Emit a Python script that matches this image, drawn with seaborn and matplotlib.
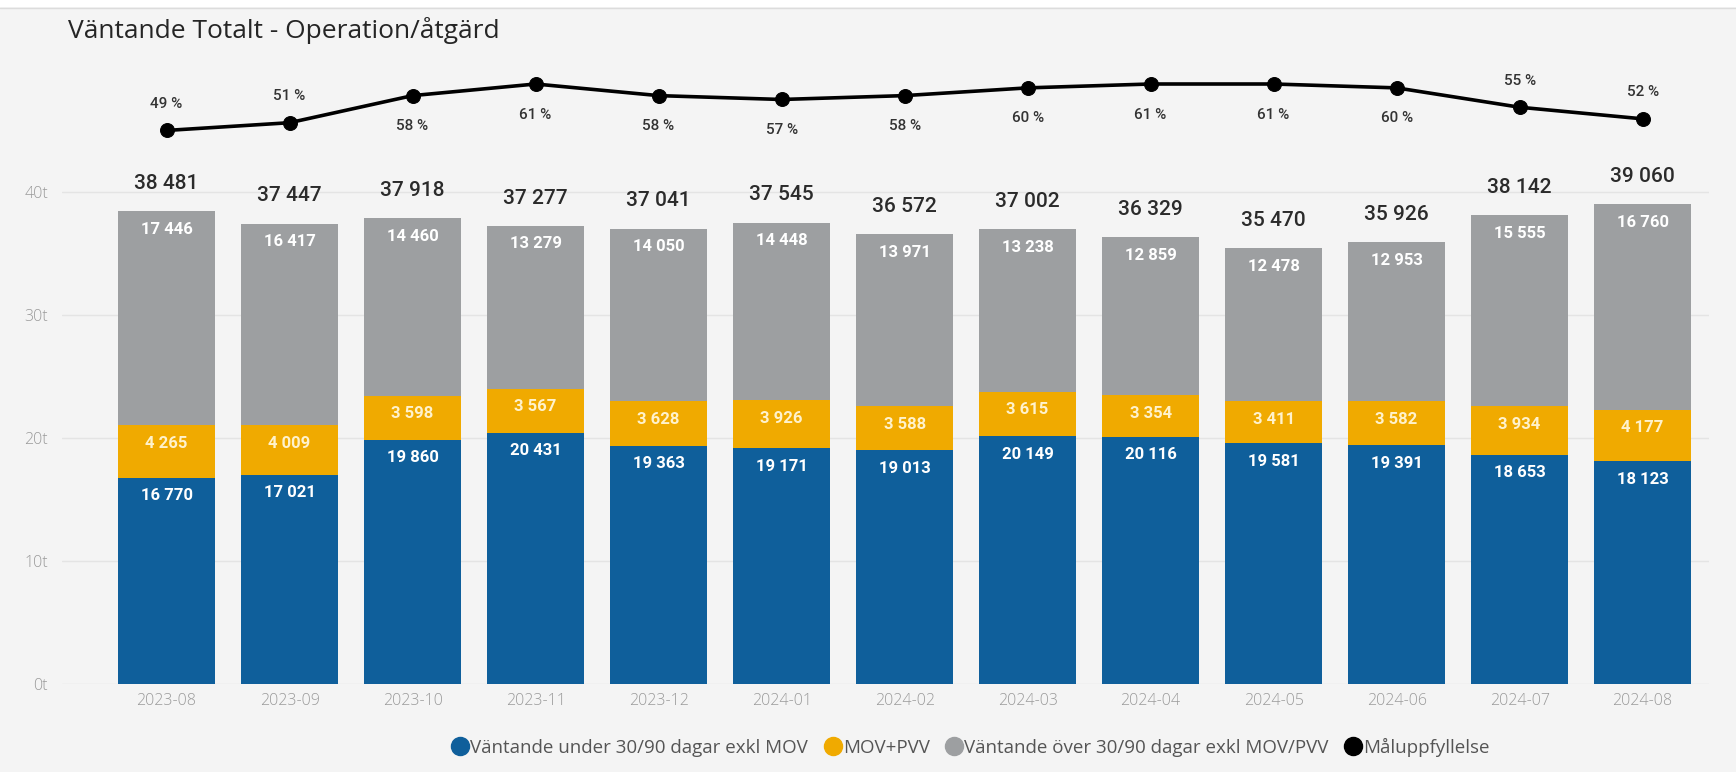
import matplotlib
matplotlib.use('Agg')
import matplotlib.pyplot as plt
from matplotlib.lines import Line2D
from matplotlib.patches import Rectangle
import seaborn as sns
import numpy as np
import pandas as pd

# data
months = ['2023-08', '2023-09', '2023-10', '2023-11', '2023-12', '2024-01', '2024-02',
          '2024-03', '2024-04', '2024-05', '2024-06', '2024-07', '2024-08']
under = [16770, 17021, 19860, 20431, 19363, 19171, 19013, 20149, 20116, 19581, 19391, 18653, 18123]
mov_pvv = [4265, 4009, 3598, 3567, 3628, 3926, 3588, 3615, 3354, 3411, 3582, 3934, 4177]
over = [17446, 16417, 14460, 13279, 14050, 14448, 13971, 13238, 12859, 12478, 12953, 15555, 16760]
maluppf = [49, 51, 58, 61, 58, 57, 58, 60, 61, 61, 60, 55, 52]

series_names = ['Väntande under 30/90 dagar exkl MOV', 'MOV+PVV',
                'Väntande över 30/90 dagar exkl MOV/PVV', 'Måluppfyllelse']

c_blue = '#0f5f9b'
c_yellow = '#f0aa00'
c_gray = '#9d9fa1'
bg = '#f4f4f4'

sns.set_style('white')
plt.rcParams['font.family'] = ['Open Sans', 'DejaVu Sans']

df = pd.DataFrame({'month': months, 'under': under, 'mov': mov_pvv, 'over': over, 'pct': maluppf})
df['lvl1'] = df['under']
df['lvl2'] = df['under'] + df['mov']
df['total'] = df['lvl2'] + df['over']

fig = plt.figure(figsize=(17.36, 7.72), dpi=100)
fig.patch.set_facecolor(bg)
fig.patches.append(Rectangle((0, 1 - 7 / 772), 1, 7 / 772, transform=fig.transFigure,
                             facecolor='white', edgecolor='none'))
fig.lines.append(Line2D([0, 1], [1 - 8 / 772, 1 - 8 / 772], transform=fig.transFigure,
                        color='#dcdcdc', lw=1))

ax = fig.add_axes([62 / 1736, 88.4 / 772, (1709 - 62) / 1736, 623.6 / 772])
ax.set_facecolor(bg)

bw = 0.79
# stacked bars: draw cumulative heights, tallest first
sns.barplot(data=df, x='month', y='total', color=c_gray, saturation=1, width=bw, errorbar=None,
            linewidth=0, edgecolor='none', ax=ax, zorder=2)
sns.barplot(data=df, x='month', y='lvl2', color=c_yellow, saturation=1, width=bw, errorbar=None,
            linewidth=0, edgecolor='none', ax=ax, zorder=3)
sns.barplot(data=df, x='month', y='lvl1', color=c_blue, saturation=1, width=bw, errorbar=None,
            linewidth=0, edgecolor='none', ax=ax, zorder=4)

ax.set_ylim(0, 50782)
ax.set_xlim(-0.85, 12.54)
ax.set_yticks([0, 10000, 20000, 30000, 40000])
ax.set_yticklabels(['0t', '10t', '20t', '30t', '40t'])
ax.grid(axis='y', color='#e4e4e4', lw=1, zorder=0)
ax.set_axisbelow(True)
for s in ax.spines.values():
    s.set_visible(False)
ax.tick_params(axis='both', length=0, labelsize=11.5, labelcolor='#9a9a9a')
ax.tick_params(axis='y', pad=10)
ax.tick_params(axis='x', pad=7)
for lab in ax.get_xticklabels() + ax.get_yticklabels():
    lab.set_fontweight('light')
ax.set_xlabel('')
ax.set_ylabel('')

fmt = lambda v: f'{v:,}'.replace(',', ' ')
lab_font = ['Roboto', 'DejaVu Sans']
for i, row in df.iterrows():
    ax.annotate(fmt(row['total']), (i, row['total']), xytext=(0, 20), textcoords='offset points',
                ha='center', va='center', fontsize=15, color='#2b2b2b', family=lab_font, fontweight='medium', zorder=6)
    ax.annotate(fmt(row['over']), (i, row['total']), xytext=(0, -13), textcoords='offset points',
                ha='center', va='center', fontsize=12, color='white', family=lab_font, fontweight='bold', zorder=6)
    ax.annotate(fmt(row['mov']), (i, row['lvl2']), xytext=(0, -13), textcoords='offset points',
                ha='center', va='center', fontsize=12, color='#fff2cc', family=lab_font, fontweight='bold', zorder=6)
    ax.annotate(fmt(row['under']), (i, row['lvl1']), xytext=(0, -13), textcoords='offset points',
                ha='center', va='center', fontsize=12, color='white', family=lab_font, fontweight='bold', zorder=6)

# line on secondary scale
ax2 = ax.twinx()
ax2.set_ylim(-93.9, 67.2)
ax2.axis('off')
xpos = np.arange(len(months))
sns.lineplot(x=xpos, y=df['pct'], color='black', lw=2.6, marker='o', markersize=10,
             markeredgecolor='black', ax=ax2, zorder=7)
ax2.set_xlim(ax.get_xlim())
for i, v in enumerate(maluppf):
    dy = 19 if v < 56 else -22
    ax2.annotate(f'{v} %', (i, v), xytext=(0, dy), textcoords='offset points', ha='center', va='center',
                 fontsize=11, color='#333333', family=lab_font, fontweight='medium')

fig.text(68 / 1736, 1 - 30 / 772, 'Väntande Totalt - Operation/åtgärd', fontsize=19,
         color='#252525', va='center', ha='left')

handles = [Line2D([], [], ls='none', marker='o', markersize=13, color=c)
           for c in [c_blue, c_yellow, c_gray, 'black']]
leg = fig.legend(handles, series_names, loc='center', bbox_to_anchor=(0.559, 1 - 747 / 772), ncol=4,
                 frameon=False, fontsize=13.5, handletextpad=0.05, columnspacing=0.8, handlelength=1.0)
for t in leg.get_texts():
    t.set_color('#555555')

fig.savefig('out.png', dpi=100, facecolor=bg)
